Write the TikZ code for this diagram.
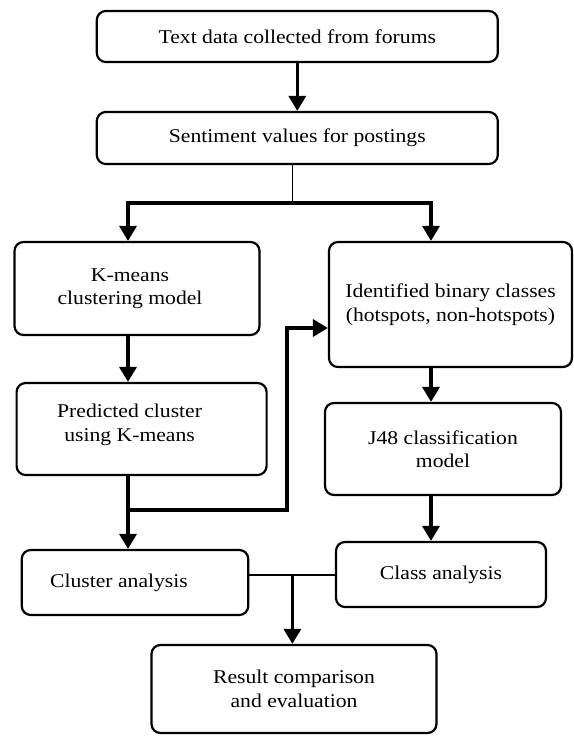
\documentclass[tikz,border=0pt]{standalone}
\usepackage{fontspec}
\setmainfont[FakeStretch=1.11]{Liberation Serif}
\usetikzlibrary{arrows.meta}

\begin{document}
\begin{tikzpicture}
[
    x = 1pt, y = -1pt,
    every node/.append style = {font = \fontsize{19.5}{23.5}\selectfont},
    every label/.append style = {align = center, inner sep = 0pt},
    box/.style = {draw, line width = 2.2pt, rounded corners = 9pt, align = center, inner sep = 0pt},
    flow/.style = {line width = 3.3pt, -{Triangle[length = 15pt, width = 17pt]}},
    link/.style = {line width = 1.8pt}]

\useasboundingbox (0,0) rectangle (573,736);

\node [box, minimum width = 401pt, minimum height = 51pt] (src) at (297.3,36.5) {Text data collected from forums};
\node [box, minimum width = 401pt, minimum height = 52pt] (senti) at (297.3,138) {Sentiment values for postings};
\node [box, minimum width = 245pt, minimum height = 93pt,
    label = {[xshift = -7pt]center:K-means\\clustering model}] (kmeans) at (137,288.5) {};
\node [box, minimum width = 250pt, minimum height = 92pt,
    label = {[xshift = -12pt, yshift = 4pt]center:Predicted cluster\\using K-means}] (pred) at (141.6,429) {};
\node [box, minimum width = 243pt, minimum height = 125pt] (ident) at (450.5,304.5) {Identified binary classes\\(hotspots, non-hotspots)};
\node [box, minimum width = 236pt, minimum height = 92pt] (jfe) at (443,449) {J48 classification\\model};
\node [box, minimum width = 210pt, minimum height = 65pt] (clan) at (441,574.5) {Class analysis};
\node [box, minimum width = 226.5pt, minimum height = 65pt,
    label = {[xshift = -16pt]center:Cluster analysis}] (cluan) at (135,582.5) {};
\node [box, minimum width = 285pt, minimum height = 88pt] (result) at (294,689) {Result comparison\\and evaluation};

% columns of the connectors
\coordinate (lx) at (128,0);
\coordinate (rx) at (431,0);
\coordinate (split) at (292.4,203);
\coordinate (join) at (128,510);
\coordinate (bend) at (287,328);
\coordinate (merge) at (292.4,575);

\draw [flow] (src) -- (senti);
\draw [link] (senti.south -| split) -- (split);
\draw [flow] (split) -| (kmeans.north -| lx);
\draw [flow] (split) -| (ident.north -| rx);

\draw [flow] (kmeans.south -| lx) -- (pred.north -| lx);
\draw [flow] (pred.south -| lx) -- (join) -- (cluan.north -| lx);
\draw [flow] (join) -| (bend) -- (ident.west |- bend);

\draw [flow] (ident.south -| rx) -- (jfe.north -| rx);
\draw [flow] (jfe.south -| rx) -- (clan.north -| rx);

\draw [link] (cluan.east |- merge) -- (clan.west |- merge);
\draw [flow] (merge) -- (result.north -| merge);

\end{tikzpicture}
\end{document}
